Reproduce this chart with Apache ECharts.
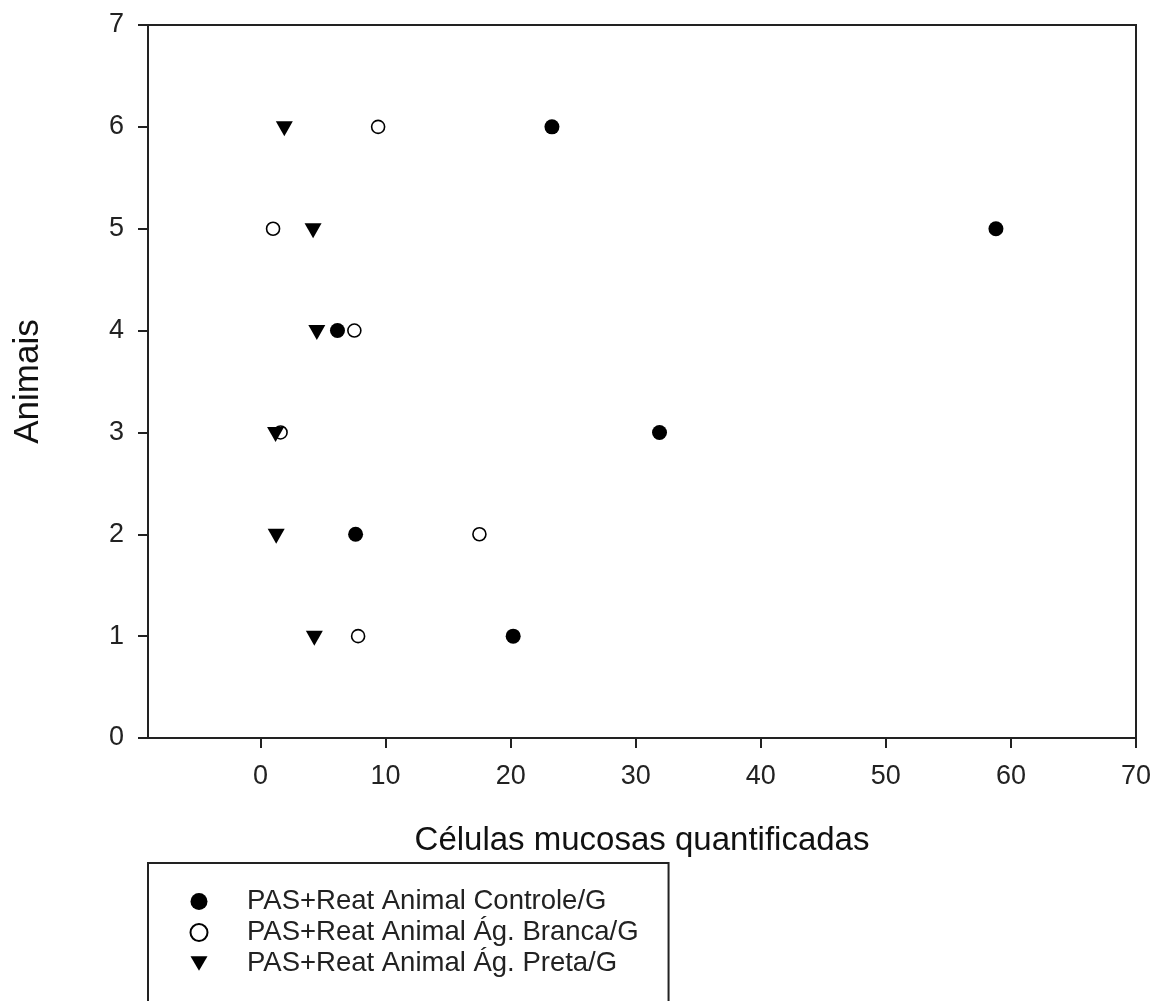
<!DOCTYPE html>
<html>
<head>
<meta charset="utf-8">
<script src="https://cdn.jsdelivr.net/npm/echarts@6/dist/echarts.min.js"></script>
<style>html,body{margin:0;padding:0;background:#fff;}#c{width:1162px;height:1001px;}</style>
</head>
<body>
<div id="c"></div>
<script>
// Data
const animals = [1, 2, 3, 4, 5, 6];
const controle = [20.2, 7.6, 31.9, 6.15, 58.8, 23.3];
const branca = [7.8, 17.5, 1.6, 7.5, 1.0, 9.4];
const preta = [4.3, 1.25, 1.2, 4.5, 4.2, 1.9];
const xTicks = [0, 10, 20, 30, 40, 50, 60, 70];
const yTicks = [0, 1, 2, 3, 4, 5, 6, 7];
const seriesNames = [
  'PAS+Reat Animal Controle/G',
  'PAS+Reat Animal Ág. Branca/G',
  'PAS+Reat Animal Ág. Preta/G'
];

const FONT = '"Liberation Sans", Arial, sans-serif';
const pairs = vals => vals.map((v, i) => [v, animals[i]]);
const TRI = 'path://M0,0 L20,0 L10,17 Z';

const chart = echarts.init(document.getElementById('c'), null, {renderer: 'canvas'});
chart.setOption({
  backgroundColor: '#fff',
  animation: false,
  grid: {
    left: 148, right: 26, top: 25, bottom: 263,
    show: true, borderColor: '#222', borderWidth: 2, backgroundColor: 'transparent'
  },
  xAxis: {
    type: 'value', min: -9, max: 70,
    name: 'Células mucosas quantificadas',
    nameLocation: 'middle', nameGap: 86,
    nameTextStyle: {fontFamily: FONT, fontSize: 33, color: '#111'},
    axisLine: {show: true, onZero: false, lineStyle: {color: '#222', width: 2}},
    axisTick: {show: true, inside: false, length: 10, lineStyle: {color: '#222', width: 2}, customValues: xTicks},
    axisLabel: {margin: 25, fontFamily: FONT, fontSize: 27, color: '#222', customValues: xTicks},
    splitLine: {show: false}
  },
  yAxis: {
    type: 'value', min: 0, max: 7, interval: 1,
    name: 'Animais',
    nameLocation: 'middle', nameGap: 102,
    nameTextStyle: {fontFamily: FONT, fontSize: 35, color: '#111'},
    axisLine: {show: true, onZero: false, lineStyle: {color: '#222', width: 2}},
    axisTick: {show: true, inside: false, length: 10, lineStyle: {color: '#222', width: 2}, customValues: yTicks},
    axisLabel: {margin: 24, fontFamily: FONT, fontSize: 27, color: '#222', customValues: yTicks},
    splitLine: {show: false}
  },
  legend: {
    orient: 'vertical',
    left: 148, top: 863, height: 400,
    padding: [23, 30, 80, 41.5],
    itemGap: 0,
    itemWidth: 17, itemHeight: 17,
    borderColor: '#222', borderWidth: 2, backgroundColor: '#fff',
    textStyle: {fontFamily: FONT, fontSize: 27.5, color: '#222', lineHeight: 31, padding: [0, 0, 0, 34.5]},
    data: seriesNames
  },
  series: [
    {
      name: seriesNames[0], type: 'scatter', data: pairs(controle),
      symbol: 'circle', symbolSize: 15,
      itemStyle: {color: '#000', opacity: 1}
    },
    {
      name: seriesNames[1], type: 'scatter', data: pairs(branca),
      symbol: 'circle', symbolSize: 13,
      itemStyle: {color: 'rgba(255,255,255,0)', borderColor: '#000', borderWidth: 1.6, opacity: 1}
    },
    {
      name: seriesNames[2], type: 'scatter', data: pairs(preta),
      symbol: TRI, symbolSize: [17, 15], symbolOffset: [0, 2],
      itemStyle: {color: '#000', opacity: 1}
    }
  ]
});
</script>
</body>
</html>
